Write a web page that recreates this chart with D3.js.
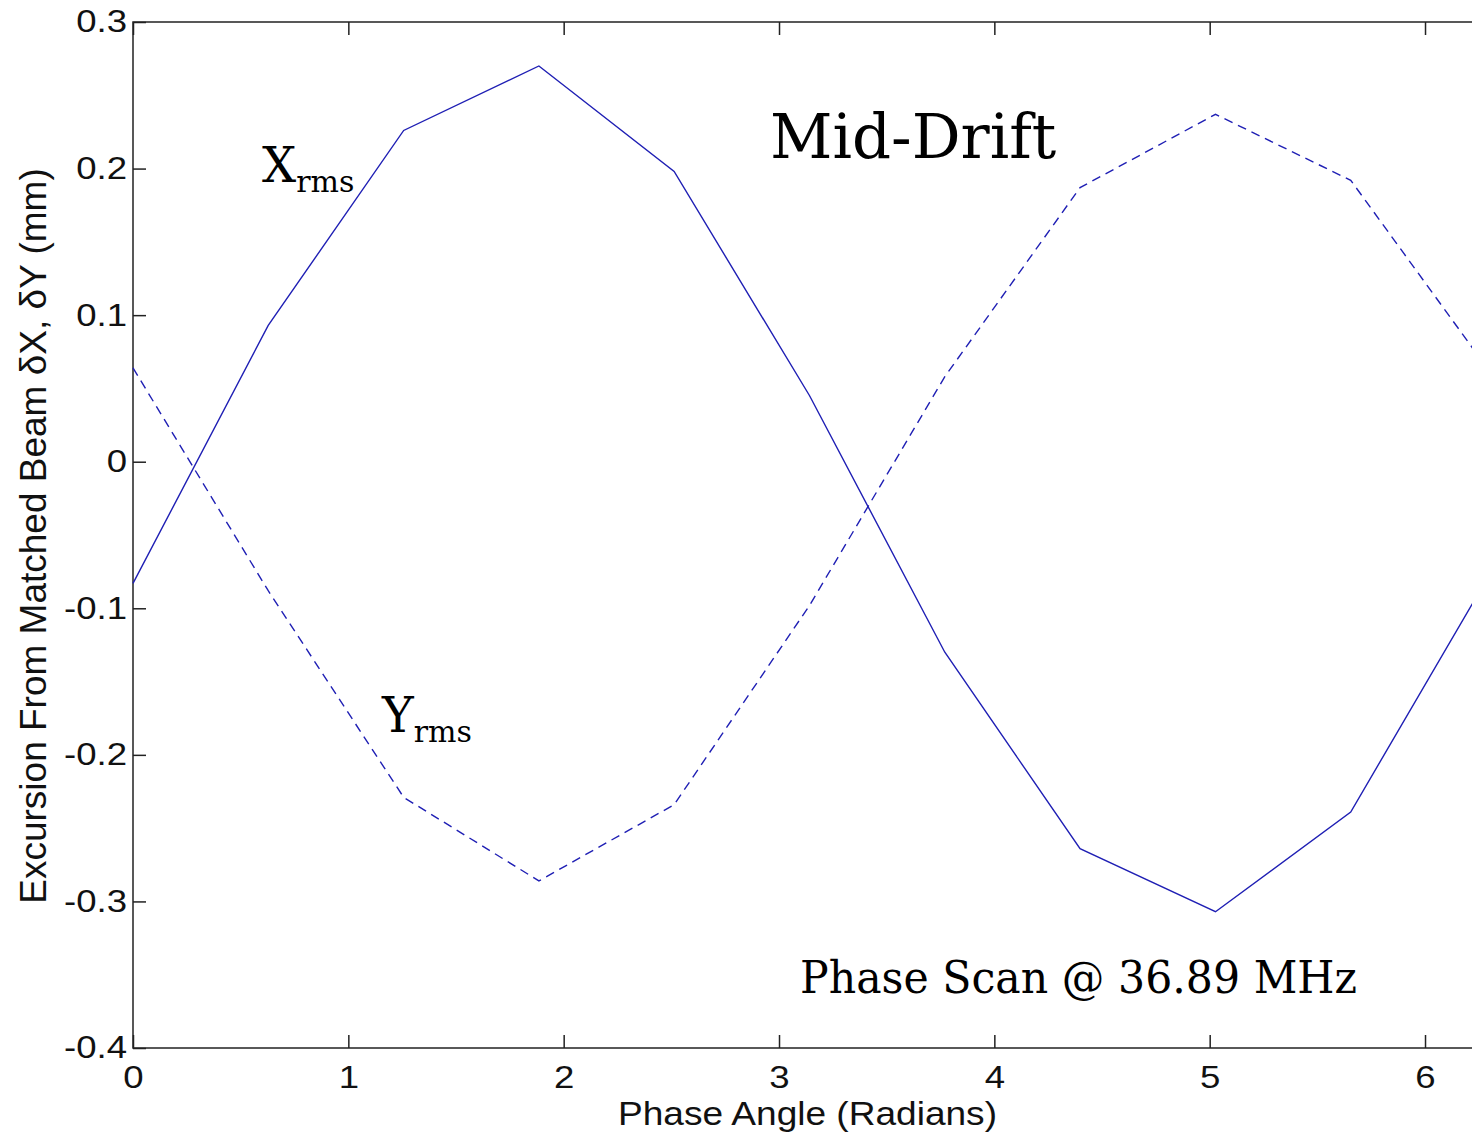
<!DOCTYPE html>
<html>
<head>
<meta charset="utf-8">
<script src="https://cdn.jsdelivr.net/npm/d3@7"></script>
<style>
  body { margin: 0; background: #fff; }
  svg { display: block; }
</style>
</head>
<body>
<script>
// phase points, 0 .. 2pi in 10 steps
let phase = [0, 0.628, 1.257, 1.885, 2.513, 3.142, 3.770, 4.398, 5.027, 5.655, 6.283];
let xrms = [-0.083, 0.093, 0.226, 0.270, 0.198, 0.045, -0.130, -0.264, -0.307, -0.239, -0.081];
let yrms = [0.064, -0.088, -0.229, -0.286, -0.234, -0.098, 0.058, 0.187, 0.237, 0.192, 0.065];
let xTicks = [0, 1, 2, 3, 4, 5, 6];
let yTicks = [0.3, 0.2, 0.1, 0, -0.1, -0.2, -0.3, -0.4];

let W = 1472, H = 1138;
let plotL = 133, plotT = 22, plotB = 1048, plotR = 1486;

let svg = d3.select("body")
            .append("svg")
            .attr("width", W)
            .attr("height", H);

let x = d3.scaleLinear().domain([0, 2 * Math.PI]).range([plotL, plotR]);
let y = d3.scaleLinear().domain([-0.4, 0.3]).range([plotB, plotT]);

let sans = "'Liberation Sans', Arial, sans-serif";
let serif = "'DejaVu Serif', 'Liberation Serif', serif";
let lineColor = "#1f1fb4";

// axes, ticks pointing inward like matlab
// (labels in the original are a bit wide, so stretch them sideways)
let axisStyle = (g) => {
    g.select(".domain").remove();
    g.selectAll(".tick line").attr("stroke", "#222").attr("stroke-width", 1.5);
    g.selectAll(".tick text").attr("fill", "#111")
        .attr("transform", "scale(1.18,1)")
        .style("font-family", sans).style("font-size", "31px");
};

svg.append("g")
    .attr("transform", `translate(${plotL},0)`)
    .call(d3.axisLeft(y).tickValues(yTicks).tickSize(-13).tickPadding(5)
        .tickFormat(d => d === 0 ? "0" : d.toFixed(1)))
    .call(axisStyle);

svg.append("g")
    .attr("transform", `translate(${plotR},0)`)
    .call(d3.axisRight(y).tickValues(yTicks).tickSize(-13).tickFormat(""))
    .call(axisStyle);

svg.append("g")
    .attr("transform", `translate(0,${plotB})`)
    .call(d3.axisBottom(x).tickValues(xTicks).tickSize(-13).tickPadding(18)
        .tickFormat(d3.format("d")))
    .call(axisStyle);

svg.append("g")
    .attr("transform", `translate(0,${plotT})`)
    .call(d3.axisTop(x).tickValues(xTicks).tickSize(-13).tickFormat(""))
    .call(axisStyle);

// frame
svg.append("rect")
    .attr("x", plotL).attr("y", plotT)
    .attr("width", plotR - plotL).attr("height", plotB - plotT)
    .attr("fill", "none").attr("stroke", "#222").attr("stroke-width", 1.5);

// series
let line = d3.line()
            .x((d, i) => x(phase[i]))
            .y(d => y(d));

svg.append("path")
    .datum(xrms)
    .attr("d", line)
    .attr("fill", "none")
    .attr("stroke", lineColor)
    .attr("stroke-width", 1.4);

svg.append("path")
    .datum(yrms)
    .attr("d", line)
    .attr("fill", "none")
    .attr("stroke", lineColor)
    .attr("stroke-width", 1.4)
    .attr("stroke-dasharray", "9,6");

// axis labels
svg.append("text")
    .attr("x", 618).attr("y", 1125)
    .attr("textLength", 379)
    .attr("lengthAdjust", "spacingAndGlyphs")
    .style("font-family", sans).style("font-size", "34px")
    .attr("fill", "#111")
    .text("Phase Angle (Radians)");

svg.append("text")
    .attr("transform", "translate(46,536) rotate(-90)")
    .attr("text-anchor", "middle")
    .style("font-family", sans).style("font-size", "37px")
    .attr("fill", "#111")
    .text("Excursion From Matched Beam \u03B4X, \u03B4Y (mm)");

// annotations
let sub = (xPos, yPos, main, small) => {
    let t = svg.append("text")
        .attr("x", xPos).attr("y", yPos)
        .style("font-family", serif).style("font-size", "48px")
        .attr("fill", "#000");
    t.append("tspan").text(main);
    t.append("tspan").attr("dy", 10).style("font-size", "30px").text(small);
};
sub(262, 182, "X", "rms");
sub(382, 732, "Y", "rms");

svg.append("text")
    .attr("x", 770).attr("y", 158)
    .style("font-family", serif).style("font-size", "61px")
    .attr("fill", "#000")
    .text("Mid-Drift");

svg.append("text")
    .attr("x", 800).attr("y", 993)
    .attr("textLength", 557)
    .attr("lengthAdjust", "spacingAndGlyphs")
    .style("font-family", serif).style("font-size", "45px")
    .attr("fill", "#000")
    .text("Phase Scan @ 36.89 MHz");
</script>
</body>
</html>
